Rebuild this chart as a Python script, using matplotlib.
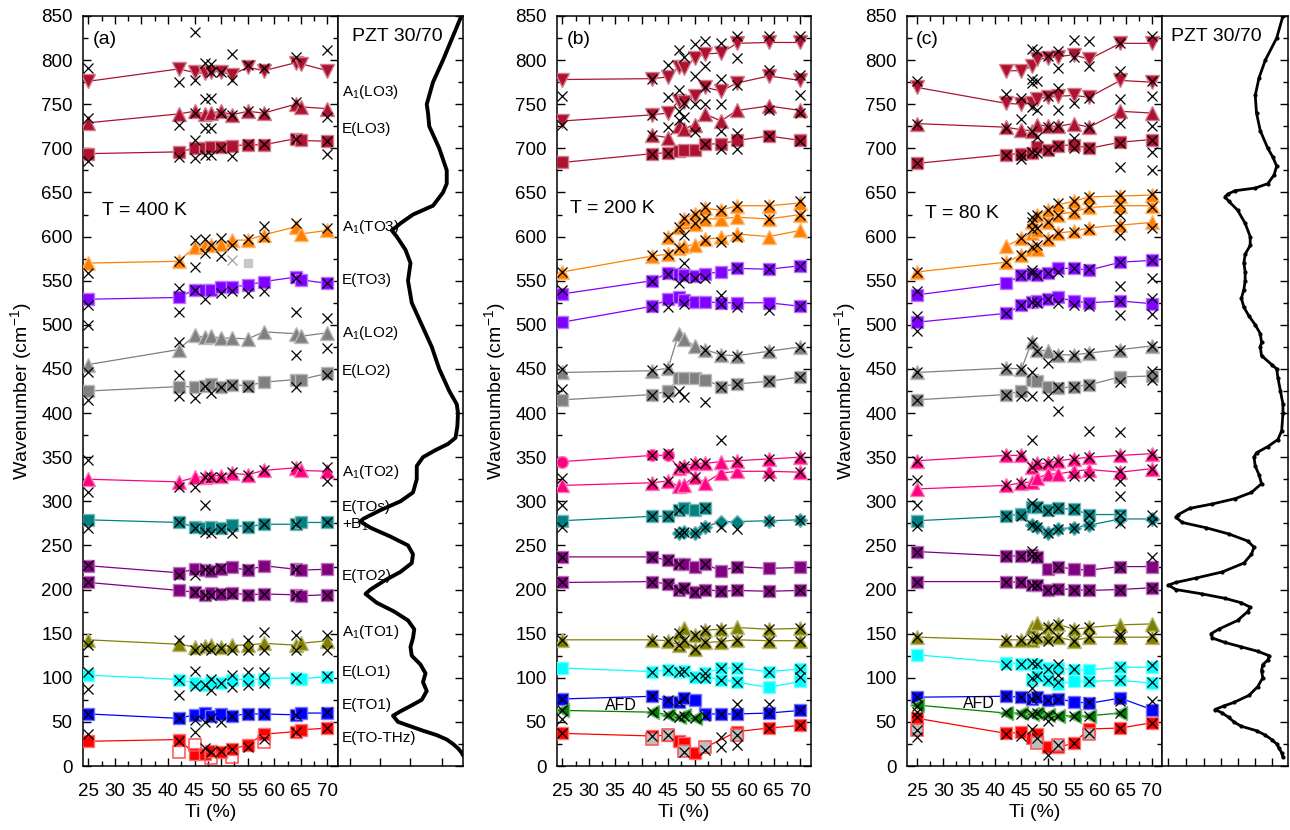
import matplotlib
matplotlib.use("Agg")
import matplotlib.pyplot as plt
from matplotlib.ticker import MultipleLocator, NullFormatter, FixedLocator
from matplotlib.colors import to_rgb

plt.rcParams['font.family'] = ['Liberation Sans', 'DejaVu Sans']
plt.rcParams['mathtext.fontset'] = 'custom'
plt.rcParams['mathtext.rm'] = 'Liberation Sans'
plt.rcParams['mathtext.it'] = 'Liberation Sans:italic'
plt.rcParams['mathtext.bf'] = 'Liberation Sans:bold'

# ---------------- data ----------------
TI_A = [25, 42, 45, 47, 48, 50, 52, 55, 58, 64, 65, 70]
TI_BC = [25, 42, 45, 47, 48, 50, 52, 55, 58, 64, 70]

# panel (a) T = 400 K
a_A1LO3 = [776, 790, 786, 785, 787, 787, 783, 792, 788, 797, 796, 788]
a_ELO3 = [729, 739, 742, 739, 740, 742, 738, 742, 740, 750, 747, 745]
a_S700 = [694, 696, 700, 700, 701, 702, 703, 704, 704, 711, 709, 708]
a_A1TO3 = [570, 572, 588, 590, 590, 592, 596, 596, 602, 611, 603, 607]
a_ETO3 = [529, 531, 540, 540, 540, 543, 543, 545, 549, 554, 551, 547]
a_A1LO2 = [455, 472, 488, 486, 487, 485, 485, 484, 492, 490, 487, 491]
a_ELO2 = [425, 430, 430, 431, 433, 430, 432, 431, 435, 438, 438, 445]
a_A1TO2 = [325, 322, 327, 328, 329, 329, 332, 330, 335, 338, 335, 334]
a_ETOs = [279, 276, 271, 270, 271, 270, 273, 271, 274, 274, 276, 276]
a_ETO2u = [227, 219, 223, 222, 221, 223, 225, 222, 227, 223, 222, 223]
a_ETO2l = [208, 199, 197, 194, 196, 195, 196, 194, 195, 194, 193, 194]
a_A1TO1 = [143, 138, 135, 136, 137, 135, 137, 137, 139, 137, 139, 142]
a_ELO1 = [103, 98, 94, 92, 95, 94, 98, 98, 99, 100, 99, 101]
a_ETO1 = [59, 54, 58, 60, 57, 59, 57, 59, 59, 58, 60, 60]
a_THz = [28, 30, 14, 14, 17, 16, 19, 24, 36, 39, 41, 43]
a_THz_open_ti = [42, 45, 48, 52, 58]
a_THz_open = [16, 24, 9, 10, 27]
a_pale_ti = [55]
a_pale = [570]
a_pale_cross_ti = [52]
a_pale_cross = [574]
a_crosses = [
    (25, 791), (25, 734), (25, 686), (42, 775), (42, 727), (42, 690),
    (45, 832), (45, 778), (45, 740), (45, 710), (45, 689),
    (47, 797), (47, 756), (47, 723), (47, 693), (48, 796), (48, 757), (48, 723), (48, 693), (48, 786),
    (50, 787), (50, 740), (50, 700), (52, 807), (52, 778), (52, 738), (52, 691),
    (55, 795), (55, 742), (55, 705), (58, 791), (58, 740), (58, 705),
    (64, 804), (64, 753), (64, 711), (70, 812), (70, 736), (70, 694), (70, 708),
    (25, 559), (42, 572), (42, 542), (45, 566), (45, 596), (47, 597), (47, 581), (48, 591),
    (50, 598), (50, 578), (52, 591), (55, 597), (58, 612), (58, 599), (64, 615), (70, 610),
    (25, 523), (25, 500), (42, 515), (45, 540), (47, 529), (50, 536), (52, 538), (55, 536),
    (58, 538), (64, 553), (64, 515), (70, 547), (70, 508),
    (25, 447), (42, 481), (42, 443), (64, 466), (70, 474),
    (25, 415), (42, 419), (45, 417), (47, 431), (48, 423), (50, 430), (52, 432), (55, 430), (64, 430), (70, 443),
    (25, 347), (25, 311), (42, 316), (45, 316), (47, 296), (47, 328), (48, 328), (50, 328),
    (52, 333), (55, 330), (58, 335), (64, 340), (70, 339), (70, 323),
    (25, 270), (42, 276), (45, 270), (47, 265), (48, 264), (50, 269), (52, 264), (55, 271),
    (58, 274), (64, 274), (70, 276),
    (25, 228), (42, 216), (45, 216), (47, 223), (48, 222), (50, 224), (55, 223), (64, 223),
    (25, 208), (45, 197), (47, 194), (48, 194), (50, 196), (52, 195), (55, 194), (58, 195), (64, 194), (70, 194),
    (25, 137), (42, 143), (45, 131), (47, 134), (48, 132), (50, 134), (52, 131), (55, 143), (55, 132),
    (58, 152), (58, 132), (64, 148), (64, 132), (70, 149), (70, 132),
    (25, 107), (25, 87), (42, 98), (42, 80), (45, 108), (45, 91), (47, 92), (48, 99), (48, 86),
    (50, 94), (52, 103), (52, 90), (55, 106), (55, 92), (58, 106), (58, 94), (64, 100), (70, 102),
    (25, 59), (25, 36), (42, 54), (45, 39), (45, 52), (47, 50), (48, 54), (50, 50), (52, 57),
    (55, 59), (58, 59), (64, 58), (70, 61),
    (42, 28), (47, 20), (48, 16), (50, 17), (52, 19), (55, 22), (58, 31), (64, 39), (70, 43),
]

# panel (b) T = 200 K
b_LO3_top = [778, 779, 781, 792, 791, 802, 807, 808, 819, 820, 820]
b_LO3_mid = [731, 738, 740, 754, 752, 759, 769, 765, 774, 782, 777]
b_ELO3_ti = [42, 45, 47, 48, 50, 52, 55, 58, 64, 70]
b_ELO3 = [715, 712, 725, 722, 727, 739, 731, 743, 748, 743]
b_S700 = [684, 694, 695, 697, 698, 698, 705, 705, 709, 714, 709]
b_TO3_low = [560, 578, 580, 587, 589, 591, 597, 599, 603, 600, 607]
b_TO3_mid_ti = [45, 47, 48, 50, 52, 55, 58, 64, 70]
b_TO3_mid = [599, 611, 617, 614, 620, 620, 622, 620, 625]
b_TO3_up_ti = [48, 50, 52, 55, 58, 64, 70]
b_TO3_up = [620, 626, 632, 630, 635, 635, 638]
b_ETO3_u = [535, 550, 559, 558, 557, 555, 558, 560, 564, 563, 567]
b_ETO3_l = [503, 521, 529, 532, 528, 526, 526, 525, 525, 525, 521]
b_A1LO2 = [446, 448, 451, 490, 484, 476, 472, 466, 465, 470, 475]
b_ELO2 = [415, 421, 425, 440, 440, 440, 438, 430, 433, 436, 441]
b_TO2p_u = [345, 352, 352, 338, 340, 343, 343, 345, 346, 348, 350]
b_TO2p_l = [318, 321, 323, 317, 319, 328, 321, 332, 334, 334, 333]
b_teal_sq_ti = [25, 42, 45, 47, 48, 50, 52]
b_teal_sq = [278, 283, 283, 290, 292, 290, 292]
b_teal_dm_ti = [47, 48, 50, 52, 55, 58, 64, 70]
b_teal_dm = [264, 265, 264, 271, 277, 277, 278, 279]
b_TO2_u = [237, 237, 233, 229, 229, 226, 229, 221, 226, 224, 225]
b_TO2_l = [208, 209, 206, 200, 202, 197, 200, 198, 199, 198, 199]
b_TO1_u_ti = [47, 48, 50, 52, 55, 58, 64, 70]
b_TO1_u = [151, 156, 148, 154, 155, 157, 155, 156]
b_TO1_l = [143, 143, 142, 137, 142, 133, 140, 141, 143, 142, 142]
b_LO1_u = [111, 107, 109, 107, 108, 101, 105, 111, 111, 107, 110]
b_LO1_l_ti = [52, 55, 58, 64, 70]
b_LO1_l = [101, 98, 95, 89, 96]
b_ETO1 = [76, 79, 73, 73, 77, 75, 59, 59, 59, 60, 63]
b_AFD_ti = [25, 42, 45, 47, 48, 50]
b_AFD = [63, 61, 58, 56, 58, 54]
b_THz_ti = [25, 42, 45, 47, 48, 50, 58, 64, 70]
b_THz = [37, 34, 35, 28, 26, 15, 39, 43, 46]
b_THz_gray_ti = [42, 45, 48, 52, 58]
b_THz_gray = [31, 35, 17, 21, 35]
b_crosses = [
    (25, 759), (25, 727), (42, 779), (42, 738), (42, 715), (42, 694), (45, 795), (45, 758), (45, 724), (45, 695),
    (47, 811), (47, 766), (47, 742), (47, 732), (48, 804), (48, 735), (48, 751),
    (50, 818), (50, 782), (50, 750), (50, 718), (52, 822), (52, 793), (52, 750), (52, 705),
    (55, 819), (55, 779), (55, 750), (55, 720), (55, 699), (58, 827), (58, 802), (58, 717), (58, 699),
    (64, 827), (64, 789), (64, 744), (70, 827), (70, 783), (70, 761), (70, 740),
    (70, 708), (64, 714), (58, 772), (52, 769),
    (25, 560), (42, 579), (45, 599), (45, 580), (47, 611), (47, 587), (48, 621), (48, 602), (48, 570),
    (50, 626), (50, 615), (52, 633), (52, 621), (52, 596), (55, 630), (55, 594), (58, 635), (58, 599),
    (64, 636), (64, 620), (70, 640), (70, 625),
    (25, 539), (42, 550), (42, 520), (45, 558), (45, 520), (47, 547), (48, 553), (48, 524), (50, 553),
    (52, 553), (55, 534), (55, 524), (58, 564), (58, 520), (64, 563), (64, 517), (70, 567), (70, 521),
    (25, 450), (25, 427), (42, 449), (42, 421), (45, 451), (45, 418), (47, 425), (48, 418), (52, 472),
    (52, 413), (55, 466), (55, 430), (58, 465), (58, 433), (64, 470), (64, 436), (70, 475), (70, 441),
    (25, 326), (25, 296), (42, 352), (42, 321), (45, 355), (45, 323), (47, 338), (48, 340), (50, 343),
    (50, 328), (52, 343), (55, 369), (58, 346), (64, 348), (64, 329), (70, 350), (70, 333),
    (25, 271), (42, 283), (45, 283), (47, 290), (47, 264), (48, 265), (50, 264), (52, 292), (52, 271),
    (55, 271), (58, 269), (64, 278), (70, 279),
    (25, 237), (42, 237), (45, 233), (47, 229), (52, 229), (58, 226),
    (25, 208), (42, 209), (45, 206), (47, 200), (48, 202), (50, 197), (52, 200), (55, 198), (58, 199), (64, 198), (70, 199),
    (25, 143), (42, 143), (45, 142), (47, 151), (47, 137), (48, 143), (50, 148), (50, 133), (52, 154),
    (52, 140), (55, 155), (55, 141), (58, 143), (64, 155), (64, 142), (70, 156), (70, 142),
    (42, 107), (45, 109), (47, 107), (48, 108), (50, 101), (52, 105), (52, 100), (55, 111), (55, 98),
    (58, 111), (58, 95), (64, 107), (70, 110), (70, 101),
    (25, 76), (25, 53), (42, 79), (45, 75), (47, 73), (48, 77), (52, 57), (55, 59), (58, 59), (58, 70),
    (64, 60), (64, 70), (70, 63),
    (25, 63), (42, 61), (45, 58), (47, 56), (48, 57), (50, 54),
    (25, 37), (42, 34), (45, 35), (48, 16), (52, 18), (55, 33), (55, 21), (58, 24), (58, 35), (64, 43), (70, 46),
]

# panel (c) T = 80 K
c_LO3_top_ti = [42, 45, 47, 48, 50, 52, 55, 58, 64, 70]
c_LO3_top = [788, 788, 793, 801, 802, 804, 806, 801, 819, 819]
c_LO3_mid = [769, 751, 750, 751, 756, 758, 759, 760, 758, 777, 775]
c_ELO3 = [728, 724, 721, 720, 727, 725, 725, 728, 724, 742, 740]
c_S700 = [683, 693, 694, 695, 702, 698, 703, 704, 700, 707, 710]
c_TO3_low = [560, 571, 579, 586, 586, 597, 604, 606, 610, 613, 616]
c_TO3_mid_ti = [42, 45, 47, 48, 50, 52, 55, 58, 64, 70]
c_TO3_mid = [589, 598, 604, 608, 617, 625, 628, 633, 635, 635]
c_TO3_up_ti = [47, 48, 50, 52, 55, 58, 64, 70]
c_TO3_up = [617, 624, 630, 636, 640, 645, 646, 647]
c_ETO3_u = [534, 547, 556, 558, 557, 559, 564, 564, 562, 571, 573]
c_ETO3_l = [503, 513, 522, 526, 527, 529, 531, 527, 525, 527, 524]
c_A1LO2 = [446, 451, 450, 481, 472, 470, 466, 466, 468, 472, 476]
c_ELO2 = [415, 421, 425, 438, 436, 430, 428, 430, 432, 441, 442]
c_TO2p_u = [346, 352, 352, 339, 343, 343, 346, 348, 350, 352, 354]
c_TO2p_l = [314, 318, 321, 322, 326, 331, 331, 334, 336, 333, 337]
c_teal_sq_ti = [25, 42, 45, 47, 48, 50, 52, 55, 58, 64]
c_teal_sq = [278, 283, 286, 294, 294, 290, 292, 291, 285, 285]
c_teal_dm_ti = [47, 48, 50, 52, 55, 58, 64, 70]
c_teal_dm = [273, 271, 264, 269, 270, 273, 280, 280]
c_TO2_u = [243, 238, 238, 239, 237, 223, 226, 223, 222, 226, 226]
c_TO2_l = [209, 209, 208, 205, 205, 199, 201, 200, 199, 200, 202]
c_TO1_u_ti = [47, 48, 50, 52, 55, 58, 64, 70]
c_TO1_u = [158, 162, 158, 161, 155, 157, 160, 161]
c_TO1_l = [146, 143, 143, 143, 146, 146, 146, 142, 146, 146, 146]
c_LO1_u = [126, 117, 116, 116, 114, 111, 111, 109, 109, 112, 112]
c_LO1_l_ti = [47, 48, 50, 52, 55, 58, 64, 70]
c_LO1_l = [98, 102, 98, 93, 96, 96, 97, 94]
c_ETO1 = [78, 79, 78, 76, 78, 75, 76, 73, 71, 77, 64]
c_AFD_ti = [25, 42, 45, 47, 48, 50, 52, 55, 58, 64]
c_AFD = [69, 60, 60, 59, 60, 58, 57, 57, 57, 60]
c_THz = [54, 37, 38, 32, 36, 21, 21, 26, 42, 43, 49]
c_THz_gray_ti = [25, 48, 52, 58]
c_THz_gray = [41, 26, 24, 36]
c_crosses = [
    (25, 776), (25, 728), (25, 683), (42, 762), (42, 723), (42, 693), (45, 757), (45, 733), (45, 693), (45, 688),
    (47, 813), (47, 779), (47, 774), (47, 747), (47, 720), (47, 696), (48, 810), (48, 776), (48, 744), (48, 713), (48, 695),
    (50, 805), (50, 759), (50, 724), (50, 698), (52, 810), (52, 791), (52, 768), (52, 744), (52, 725), (52, 703),
    (55, 823), (55, 804), (55, 751), (55, 712), (55, 700), (58, 822), (58, 793), (58, 757), (58, 724), (58, 700),
    (64, 819), (64, 788), (64, 756), (64, 729), (64, 706), (64, 679),
    (70, 827), (70, 776), (70, 759), (70, 725), (70, 696), (70, 676), (70, 710),
    (25, 560), (42, 571), (45, 598), (45, 579), (47, 622), (47, 617), (47, 609), (47, 588), (48, 624), (48, 610), (48, 590),
    (50, 630), (50, 617), (50, 597), (52, 638), (52, 625), (52, 604), (55, 640), (55, 628), (55, 605),
    (58, 645), (58, 633), (58, 609), (64, 647), (64, 637), (64, 625), (64, 613), (64, 602), (70, 648), (70, 633), (70, 610),
    (25, 538), (25, 510), (25, 493), (42, 513), (45, 556), (45, 522), (47, 559), (47, 562), (47, 526), (48, 557), (48, 525),
    (50, 559), (50, 529), (52, 560), (52, 525), (55, 564), (55, 523), (58, 563), (58, 521),
    (64, 571), (64, 544), (64, 527), (64, 511), (70, 573), (70, 553), (70, 530), (70, 512),
    (25, 446), (42, 451), (45, 450), (47, 480), (47, 447), (47, 419), (45, 419), (48, 470), (50, 419), (50, 457),
    (52, 466), (52, 430), (52, 402), (55, 466), (55, 430), (58, 468), (58, 432), (64, 472), (64, 435),
    (70, 476), (70, 448), (70, 438), (42, 421), (25, 415),
    (25, 346), (25, 324), (25, 296), (42, 352), (42, 318), (45, 352), (45, 321), (47, 370), (47, 339), (48, 343),
    (50, 343), (52, 346), (55, 348), (55, 329), (58, 350), (58, 380), (58, 329), (64, 379), (64, 352), (64, 334),
    (64, 323), (64, 306), (70, 354), (70, 337),
    (25, 272), (42, 283), (45, 283), (47, 298), (47, 273), (48, 294), (48, 271), (50, 289), (50, 264), (52, 292),
    (52, 269), (55, 291), (55, 270), (58, 285), (58, 273), (64, 285), (64, 275), (70, 285), (70, 276),
    (25, 243), (42, 238), (45, 238), (47, 244), (47, 238), (48, 237), (52, 226), (64, 226), (70, 237),
    (25, 209), (42, 209), (45, 208), (47, 205), (48, 205), (50, 199), (52, 201), (55, 200), (58, 199), (64, 200), (70, 202),
    (25, 146), (42, 143), (45, 143), (47, 144), (48, 146), (50, 158), (50, 142), (52, 161), (52, 146), (55, 155),
    (55, 142), (58, 157), (58, 146), (64, 150), (64, 146), (70, 147),
    (42, 115), (45, 116), (47, 117), (47, 100), (47, 88), (48, 116), (48, 102), (50, 110), (50, 98), (52, 116),
    (52, 103), (52, 95), (55, 110), (58, 96), (64, 112), (64, 98), (70, 114), (70, 95),
    (25, 78), (42, 79), (45, 78), (47, 76), (48, 78), (50, 75), (52, 76), (58, 72), (64, 74), (70, 74),
    (25, 68), (25, 61), (42, 61), (45, 59), (47, 59), (48, 60), (50, 58), (50, 51), (52, 57), (55, 57), (58, 57), (64, 60),
    (25, 55), (25, 41), (25, 33), (42, 36), (45, 34), (47, 42), (48, 32), (50, 12), (52, 24), (55, 26), (58, 37), (64, 43), (70, 49),
]

# side spectra (PZT 30/70): wavenumber and relative signal (0..1 across side panel)
spec_a_wn = [850, 800, 775, 750, 740, 725, 700, 675, 660, 650, 635, 625, 615, 607, 600, 585, 570, 550,
             525, 500, 475, 450, 425, 410, 400, 385, 372, 365, 358, 350, 340, 325, 310, 300, 290, 280, 277, 270,
             260, 250, 240, 230, 220, 210, 200, 195, 185, 175, 165, 155, 145, 135, 125, 115, 105, 95,
             85, 75, 68, 62, 57, 50, 45, 40, 35, 30, 25, 20, 15, 12]
spec_a_val = [0.987, 0.84, 0.76, 0.71, 0.72, 0.73, 0.81, 0.87, 0.87, 0.84, 0.76, 0.60, 0.50, 0.43, 0.47,
              0.54, 0.58, 0.56, 0.59, 0.67, 0.75, 0.81, 0.89, 0.95, 0.96, 0.955, 0.94, 0.88, 0.78, 0.68, 0.63, 0.63,
              0.60, 0.50, 0.34, 0.20, 0.18, 0.26, 0.42, 0.56, 0.60, 0.59, 0.50, 0.37, 0.26, 0.22, 0.31,
              0.45, 0.56, 0.61, 0.60, 0.58, 0.59, 0.66, 0.70, 0.68, 0.71, 0.67, 0.58, 0.50, 0.44, 0.48,
              0.58, 0.68, 0.79, 0.87, 0.92, 0.96, 0.99, 1.0]
spec_c_wn = [850, 825, 800, 780, 760, 740, 720, 700, 690, 680, 670, 660, 655, 652, 648, 645, 640, 630,
             615, 600, 590, 580, 570, 560, 550, 540, 530, 520, 510, 500, 490, 480, 475, 465, 455, 450,
             440, 425, 410, 400, 380, 370, 362, 355, 350, 340, 330, 320, 310, 303, 297, 292, 285, 282,
             276, 270, 263, 255, 248, 240, 230, 220, 213, 208, 205, 200, 195, 190, 185, 180, 175, 165,
             155, 150, 145, 140, 135, 130, 125, 120, 115, 108, 100, 90, 80, 72, 68, 64, 60, 55, 50, 45,
             40, 35, 30, 25, 20, 15, 10]
spec_c_val = [0.96, 0.91, 0.82, 0.77, 0.74, 0.75, 0.78, 0.84, 0.88, 0.91, 0.89, 0.84, 0.74, 0.58, 0.52,
              0.50, 0.53, 0.60, 0.66, 0.70, 0.70, 0.66, 0.65, 0.66, 0.66, 0.65, 0.63, 0.65, 0.69, 0.74,
              0.78, 0.79, 0.78, 0.79, 0.87, 0.91, 0.92, 0.94, 0.96, 0.96, 0.95, 0.92, 0.84, 0.75, 0.73,
              0.74, 0.77, 0.79, 0.71, 0.58, 0.40, 0.22, 0.13, 0.11, 0.16, 0.35, 0.53, 0.68, 0.73, 0.71,
              0.65, 0.48, 0.27, 0.11, 0.05, 0.11, 0.32, 0.50, 0.63, 0.70, 0.68, 0.60, 0.45, 0.39, 0.40,
              0.50, 0.63, 0.76, 0.85, 0.84, 0.80, 0.79, 0.80, 0.76, 0.69, 0.57, 0.49, 0.42, 0.48, 0.53,
              0.57, 0.63, 0.75, 0.82, 0.87, 0.91, 0.93, 0.95, 0.96]

labels_a = ['A$_1$(LO3)', 'E(LO3)', 'A$_1$(TO3)', 'E(TO3)', 'A$_1$(LO2)', 'E(LO2)', 'A$_1$(TO2)',
            'E(TOs)', '+B$_1$', 'E(TO2)', 'A$_1$(TO1)', 'E(LO1)', 'E(TO1)', 'E(TO-THz)']
labels_a_wn = [764, 722, 611, 551, 491, 448, 333, 294, 273, 215, 152, 107, 69, 32]

# ---------------- styles ----------------
CRIMSON = '#AE1230'
ORANGE = '#FF8000'
PURPLE = '#8000FF'
GRAY = '#808080'
PINK = '#FF0080'
TEAL = '#008080'
DPURPLE = '#800080'
OLIVE = '#808000'
CYAN = '#00FFFF'
BLUE = '#0000FF'
RED = '#FF0000'
GREEN = '#008000'

MS = {'s': 8, '^': 9.5, 'v': 9.5, 'D': 7, 'o': 8.5, '<': 9.5}


def light(c, f=0.45):
    r, g, b = to_rgb(c)
    return (r + (1 - r) * f, g + (1 - g) * f, b + (1 - b) * f)


def series(ax, x, y, marker, color, line=True, z=3):
    if line:
        ax.plot(x, y, '-', color=color, lw=0.9, zorder=2)
    ax.plot(x, y, linestyle='none', marker=marker, ms=MS[marker], mfc=color,
            mec=light(color), mew=1.0, zorder=z)


def crosses(ax, pts, color='black'):
    ax.plot([p[0] for p in pts], [p[1] for p in pts], linestyle='none', marker='x',
            ms=7, mew=0.9, color=color, zorder=6)


def merged_line(ti1, v1, ti2, v2):
    d = dict(zip(ti2, v2))
    d.update(dict(zip(ti1, v1)))
    ks = sorted(d)
    return ks, [d[k] for k in ks]


W, H = 1290, 830
fig = plt.figure(figsize=(W / 100, H / 100), dpi=100)
TOP, BOT = 16, 766


def add_ax(l, r):
    return fig.add_axes([l / W, 1 - BOT / H, (r - l) / W, (BOT - TOP) / H])


def style_main(ax, xmin):
    ax.set_xlim(xmin, 72)
    ax.set_ylim(0, 850)
    ax.xaxis.set_minor_locator(MultipleLocator(2.5))
    ax.set_xticks(list(range(25, 71, 5)))
    ax.yaxis.set_major_locator(MultipleLocator(50))
    ax.yaxis.set_minor_locator(MultipleLocator(25))
    ax.tick_params(which='both', direction='in', top=True, right=True, width=1.0)
    ax.tick_params(which='major', length=6, labelsize=13.5)
    ax.tick_params(which='minor', length=3.5)
    ax.tick_params(axis='y', pad=7.5)
    ax.tick_params(axis='x', pad=12)
    for s in ax.spines.values():
        s.set_linewidth(1.1)
    ax.set_xlabel('Ti (%)', fontsize=14, labelpad=3)
    ax.set_ylabel('Wavenumber (cm$^{-1}$)', fontsize=14, labelpad=5)


def style_side(ax, xt):
    ax.set_xlim(0, 1)
    ax.set_ylim(0, 850)
    ax.yaxis.set_major_locator(MultipleLocator(50))
    ax.yaxis.set_minor_locator(MultipleLocator(25))
    ax.xaxis.set_major_locator(FixedLocator(xt))
    ax.xaxis.set_major_formatter(NullFormatter())
    ax.yaxis.set_major_formatter(NullFormatter())
    ax.tick_params(which='both', direction='in', left=False, right=True, top=False, bottom=True, width=1.0)
    ax.tick_params(which='major', length=6)
    ax.tick_params(which='minor', length=3.5)
    for s in ax.spines.values():
        s.set_linewidth(1.1)


# ---------------- panel (a) ----------------
axa = add_ax(83, 338)
style_main(axa, 24)
for y, m, c in [(a_A1LO3, 'v', CRIMSON), (a_ELO3, '^', CRIMSON), (a_S700, 's', CRIMSON),
                (a_A1TO3, '^', ORANGE), (a_ETO3, 's', PURPLE), (a_A1LO2, '^', GRAY),
                (a_ELO2, 's', GRAY), (a_A1TO2, '^', PINK), (a_ETOs, 's', TEAL),
                (a_ETO2u, 's', DPURPLE), (a_ETO2l, 's', DPURPLE), (a_A1TO1, '^', OLIVE),
                (a_ELO1, 's', CYAN), (a_ETO1, 's', BLUE), (a_THz, 's', RED)]:
    series(axa, TI_A, y, m, c)
axa.plot(a_THz_open_ti, a_THz_open, linestyle='none', marker='s', ms=8, mfc='none',
         mec='#FF5050', mew=1.1, zorder=3)
axa.plot(a_pale_ti, a_pale, linestyle='none', marker='s', ms=6, color='#C8C8C8', zorder=3)
crosses(axa, a_crosses)
crosses(axa, list(zip(a_pale_cross_ti, a_pale_cross)), color='#A0A0A0')
axa.text(0.04, 0.968, '(a)', transform=axa.transAxes, fontsize=14, va='center', ha='left')
axa.text(0.075, 0.741, 'T = 400 K', transform=axa.transAxes, fontsize=14, va='center', ha='left')

sa = add_ax(338, 463)
style_side(sa, [0.096, 0.336, 0.576, 0.83])
sa.plot(spec_a_val, spec_a_wn, color='black', lw=2.8, solid_capstyle='round',
        solid_joinstyle='round', zorder=3)
sa.text(0.11, 0.972, 'PZT 30/70', transform=sa.transAxes, fontsize=14, va='center', ha='left')
for t, yv in zip(labels_a, labels_a_wn):
    sa.text(0.03, yv, t, fontsize=11, va='center', ha='left', zorder=5)

# ---------------- panel (b) ----------------
axb = add_ax(557, 811)
style_main(axb, 24)
for x, y, m, c in [(TI_BC, b_LO3_top, 'v', CRIMSON), (TI_BC, b_LO3_mid, 'v', CRIMSON),
                   (b_ELO3_ti, b_ELO3, '^', CRIMSON), (TI_BC, b_S700, 's', CRIMSON),
                   (TI_BC, b_TO3_low, '^', ORANGE), (b_TO3_mid_ti, b_TO3_mid, '^', ORANGE),
                   (b_TO3_up_ti, b_TO3_up, '^', ORANGE),
                   (TI_BC, b_ETO3_u, 's', PURPLE), (TI_BC, b_ETO3_l, 's', PURPLE),
                   (TI_BC, b_A1LO2, '^', GRAY), (TI_BC, b_ELO2, 's', GRAY),
                   (TI_BC, b_TO2p_l, '^', PINK),
                   (b_teal_sq_ti, b_teal_sq, 's', TEAL), (b_teal_dm_ti, b_teal_dm, 'D', TEAL),
                   (TI_BC, b_TO2_u, 's', DPURPLE), (TI_BC, b_TO2_l, 's', DPURPLE),
                   (b_TO1_u_ti, b_TO1_u, '^', OLIVE), (TI_BC, b_TO1_l, '^', OLIVE),
                   (TI_BC, b_LO1_u, 's', CYAN), (b_LO1_l_ti, b_LO1_l, 's', CYAN),
                   (TI_BC, b_ETO1, 's', BLUE), (b_AFD_ti, b_AFD, '<', GREEN)]:
    series(axb, x, y, m, c)
# pink upper: circles for first three, triangles after
axb.plot(TI_BC, b_TO2p_u, '-', color=PINK, lw=0.9, zorder=2)
series(axb, TI_BC[:3], b_TO2p_u[:3], 'o', PINK, line=False)
series(axb, TI_BC[3:], b_TO2p_u[3:], '^', PINK, line=False)
lx, ly = merged_line(b_THz_ti, b_THz, b_THz_gray_ti, b_THz_gray)
axb.plot(lx, ly, '-', color=RED, lw=0.9, zorder=2)
series(axb, b_THz_ti, b_THz, 's', RED, line=False)
axb.plot(b_THz_gray_ti, b_THz_gray, linestyle='none', marker='s', ms=8, mfc='#BEBEBE',
         mec='#FF5050', mew=1.1, zorder=4)
crosses(axb, b_crosses)
axb.text(36, 69, 'AFD', fontsize=11.5, va='center', ha='center', zorder=7)
axb.text(0.04, 0.968, '(b)', transform=axb.transAxes, fontsize=14, va='center', ha='left')
axb.text(0.05, 0.743, 'T = 200 K', transform=axb.transAxes, fontsize=14, va='center', ha='left')

# ---------------- panel (c) ----------------
axc = add_ax(907, 1162)
style_main(axc, 23)
for x, y, m, c in [(c_LO3_top_ti, c_LO3_top, 'v', CRIMSON), (TI_BC, c_LO3_mid, 'v', CRIMSON),
                   (TI_BC, c_ELO3, '^', CRIMSON), (TI_BC, c_S700, 's', CRIMSON),
                   (TI_BC, c_TO3_low, '^', ORANGE), (c_TO3_mid_ti, c_TO3_mid, '^', ORANGE),
                   (c_TO3_up_ti, c_TO3_up, '^', ORANGE),
                   (TI_BC, c_ETO3_u, 's', PURPLE), (TI_BC, c_ETO3_l, 's', PURPLE),
                   (TI_BC, c_A1LO2, '^', GRAY), (TI_BC, c_ELO2, 's', GRAY),
                   (TI_BC, c_TO2p_u, '^', PINK), (TI_BC, c_TO2p_l, '^', PINK),
                   (c_teal_sq_ti, c_teal_sq, 's', TEAL), (c_teal_dm_ti, c_teal_dm, 'D', TEAL),
                   (TI_BC, c_TO2_u, 's', DPURPLE), (TI_BC, c_TO2_l, 's', DPURPLE),
                   (c_TO1_u_ti, c_TO1_u, '^', OLIVE), (TI_BC, c_TO1_l, '^', OLIVE),
                   (TI_BC, c_LO1_u, 's', CYAN), (c_LO1_l_ti, c_LO1_l, 's', CYAN),
                   (TI_BC, c_ETO1, 's', BLUE), (c_AFD_ti, c_AFD, '<', GREEN),
                   (TI_BC, c_THz, 's', RED)]:
    series(axc, x, y, m, c)
axc.plot(c_THz_gray_ti, c_THz_gray, linestyle='none', marker='s', ms=8, mfc='#BEBEBE',
         mec='#FF5050', mew=1.1, zorder=4)
crosses(axc, c_crosses)
axc.text(36.8, 71, 'AFD', fontsize=11.5, va='center', ha='center', zorder=7)
axc.text(0.035, 0.968, '(c)', transform=axc.transAxes, fontsize=14, va='center', ha='left')
axc.text(0.07, 0.737, 'T = 80 K', transform=axc.transAxes, fontsize=14, va='center', ha='left')

sc = add_ax(1162, 1288)
style_side(sc, [0.048, 0.19, 0.33, 0.47, 0.6, 0.74, 0.87])
sc.plot(spec_c_val, spec_c_wn, color='black', lw=2.0, marker='o', ms=2.0, zorder=3)
sc.text(0.07, 0.972, 'PZT 30/70', transform=sc.transAxes, fontsize=14, va='center', ha='left')

fig.savefig('out.png', dpi=100)
